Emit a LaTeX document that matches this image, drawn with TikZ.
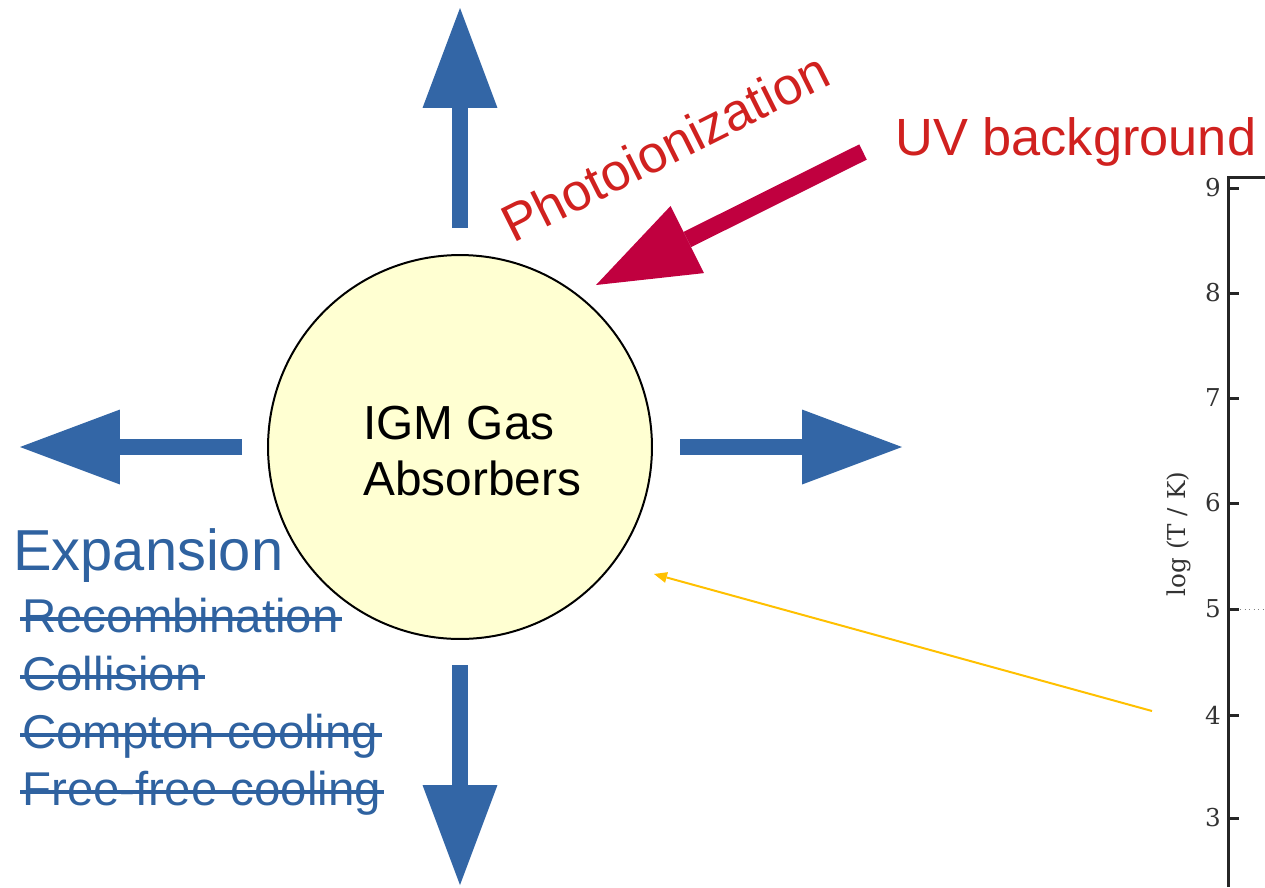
\documentclass[tikz,border=0pt]{standalone}
\usepackage{fontspec}
\setmainfont{Liberation Sans}
\newfontfamily\tickfont{DejaVu Serif}
\usetikzlibrary{arrows.meta}
\definecolor{arrowblue}{HTML}{3366A6}
\definecolor{textblue}{HTML}{2F62A0}
\definecolor{crimsonarrow}{HTML}{C0003F}
\definecolor{redtext}{HTML}{D0211F}
\definecolor{gasfill}{HTML}{FFFFD2}
\definecolor{pointer}{HTML}{FFC000}
\definecolor{tickgray}{HTML}{333333}
\tikzset{
  bigarrow/.style={line width=0.32cm, draw=arrowblue,
    -{Triangle[length=2cm, width=1.5cm, line width=0pt, fill=arrowblue]}},
  redarrow/.style={line width=0.34cm, draw=crimsonarrow,
    -{Triangle[length=2.04cm, width=1.5cm, line width=0pt, fill=crimsonarrow]}},
  struck/.style={anchor=base west, inner sep=0pt, text=textblue,
    font=\fontsize{27}{30}\selectfont},
  strikeline/.style={draw=textblue, line width=0.08cm},
  ticklabel/.style={anchor=east, inner sep=0pt, text=tickgray,
    font=\tickfont\fontsize{14}{16}\selectfont},
  axisline/.style={draw=black!85, line width=0.06cm},
}
\begin{document}
\begin{tikzpicture}[x=0.02cm, y=-0.02cm]
\useasboundingbox (0,0) rectangle (1265,887);

% central gas cloud
\node[circle, draw=black, line width=0.04cm, fill=gasfill,
      minimum size=7.68cm, inner sep=0pt] (gas) at (460,447) {};
\node[anchor=west, align=left, inner sep=0pt,
      font=\fontsize{27.2}{32.3}\selectfont] (gaslabel) at (363,451)
      {IGM Gas\\Absorbers};

% expansion arrows
\coordinate (upS) at (460,228);   \coordinate (upT) at (460,8);
\coordinate (dnS) at (460,665);   \coordinate (dnT) at (460,885);
\coordinate (lfS) at (242,447);   \coordinate (lfT) at (20,447);
\coordinate (rtS) at (680,447);   \coordinate (rtT) at (902,447);
\draw[bigarrow] (upS) -- (upT);
\draw[bigarrow] (dnS) -- (dnT);
\draw[bigarrow] (lfS) -- (lfT);
\draw[bigarrow] (rtS) -- (rtT);

% UV background
\node[anchor=base west, inner sep=0pt, text=redtext,
      font=\fontsize{29.8}{34}\selectfont] (uv) at (895,155) {UV background};
\coordinate (uvS) at (863,152);
\coordinate (uvT) at (596,285);
\draw[redarrow] (uvS) -- (uvT);
\node[anchor=base west, inner sep=0pt, text=redtext, rotate=26.6,
      font=\fontsize{29.8}{34}\selectfont] (photo) at (513,244) {Photoionization};

% processes
\node[anchor=base west, inner sep=0pt, text=textblue,
      font=\fontsize{32.9}{38}\selectfont] (exp) at (13,570) {Expansion};
\node[struck] (rec) at (22,632) {Recombination};
\node[struck] (col) at (22,690) {Collision};
\node[struck] (com) at (22,748) {Compton cooling};
\node[struck] (ff)  at (22,805) {Free-free cooling};
\foreach \n in {rec,col,com,ff}{
  \draw[strikeline] ([xshift=-0.04cm, yshift=0.27cm]\n.base west) --
                    ([xshift=0.06cm, yshift=0.27cm]\n.base east);
}

% pointer
\coordinate (ptS) at (1152,711);
\coordinate (ptT) at (654,574);
\draw[draw=pointer, line width=0.04cm,
      -{Triangle[length=0.26cm, width=0.22cm, line width=0pt, fill=pointer]}]
      (ptS) -- (ptT);

% plot axis
\draw[axisline] (1228,887) -- (1228,177) -- (1265,177);
\foreach \v/\y in {9/188,8/293,7/398,6/503,5/609,4/715,3/818}{
  \draw[axisline] (1228,\y) -- (1239,\y);
  \node[ticklabel] (t\v) at (1221,\y) {\v};
}
\draw[gray, dotted, line width=0.02cm] (1240,609) -- (1265,609);
\node[rotate=90, inner sep=0pt, text=tickgray,
      font=\tickfont\fontsize{14}{16}\selectfont] (ylab) at (1179,534) {log (T / K)};
\end{tikzpicture}
\end{document}
